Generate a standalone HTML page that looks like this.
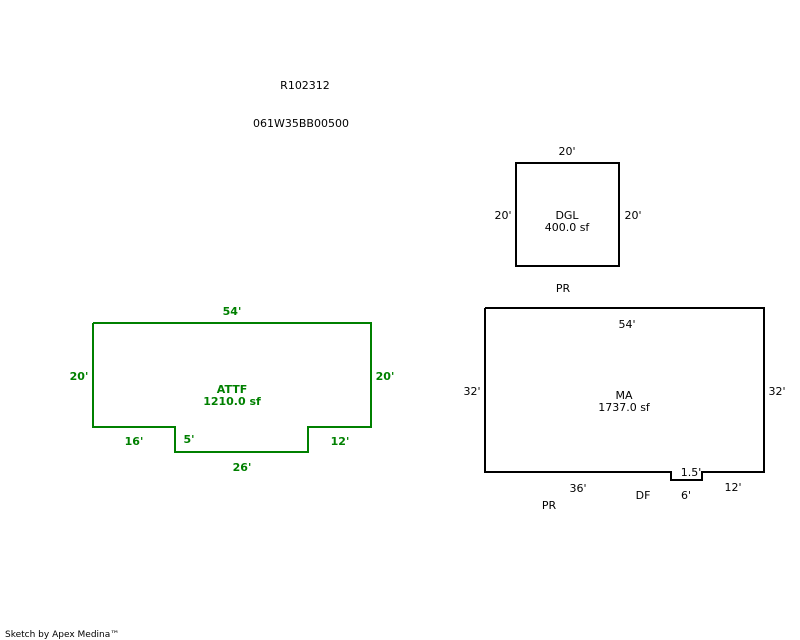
<!DOCTYPE html>
<html><head><style>body{margin:0;background:#fff}svg{display:block}</style></head>
<body>
<svg width="800" height="640" xmlns="http://www.w3.org/2000/svg" font-family="DejaVu Sans, Verdana, sans-serif" font-size="11">
<g fill="#000" text-anchor="middle">
<text x="305" y="89">R102312</text>
<text x="301" y="127">061W35BB00500</text>
<text x="567" y="155">20'</text>
<text x="503" y="219">20'</text>
<text x="633" y="219">20'</text>
<text x="567" y="219">DGL</text>
<text x="567" y="231">400.0 sf</text>
<text x="563" y="292">PR</text>
<text x="627" y="328">54'</text>
<text x="472" y="395">32'</text>
<text x="777" y="395">32'</text>
<text x="624" y="399">MA</text>
<text x="624" y="411">1737.0 sf</text>
<text x="691" y="476">1.5'</text>
<text x="578" y="492">36'</text>
<text x="643" y="499">DF</text>
<text x="686" y="499">6'</text>
<text x="733" y="491">12'</text>
<text x="549" y="509">PR</text>
</g>
<g fill="none" stroke="#000" stroke-width="2">
<rect x="516" y="163" width="103" height="103"/>
<polyline points="485,308 764,308 764,472 702,472 702,480 671,480 671,472 485,472 485,308"/>
</g>
<polyline fill="none" stroke="#008000" stroke-width="2" points="93,323 371,323 371,427 308,427 308,452 175,452 175,427 93,427 93,323"/>
<g fill="#008000" font-weight="bold" text-anchor="middle">
<text x="232" y="315">54'</text>
<text x="79" y="380">20'</text>
<text x="385" y="380">20'</text>
<text x="232" y="393">ATTF</text>
<text x="232" y="405">1210.0 sf</text>
<text x="134" y="445">16'</text>
<text x="189" y="443">5'</text>
<text x="340" y="445">12'</text>
<text x="242" y="471">26'</text>
</g>
<text x="5" y="637" font-size="9" fill="#000">Sketch by Apex Medina™</text>
</svg>
</body></html>
